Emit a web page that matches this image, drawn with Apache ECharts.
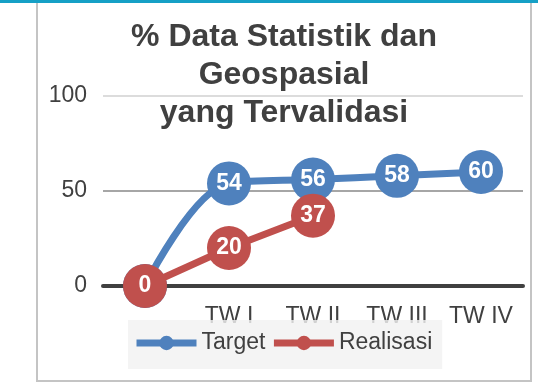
<!DOCTYPE html>
<html>
<head>
<meta charset="utf-8">
<script src="https://cdn.jsdelivr.net/npm/echarts@6/dist/echarts.min.js"></script>
<style>
  html, body { margin: 0; padding: 0; background: #ffffff; }
  #chart { width: 538px; height: 390px; }
</style>
</head>
<body>
<div id="chart"></div>
<script>
// Quarterly categories (first slot is the starting point, unlabeled)
const categories = ['', 'TW I', 'TW II', 'TW III', 'TW IV'];
const targetValues = [0, 54, 56, 58, 60];
const realisasiValues = [0, 20, 37, null, null];
const yTicks = [0, 50, 100];

const FONT = '"Liberation Sans", Arial, sans-serif';
const TEXT = '#404040';
const BLUE = '#4f81bd';
const RED = '#c0504d';

const chart = echarts.init(document.getElementById('chart'), null, { renderer: 'canvas' });

const pointLabel = {
  show: true,
  position: 'inside',
  color: '#ffffff',
  fontFamily: FONT,
  fontWeight: 'bold',
  fontSize: 23
};

chart.setOption({
  animation: false,
  backgroundColor: '#ffffff',
  title: {
    text: '% Data Statistik dan\nGeospasial\nyang Tervalidasi',
    left: 284,
    top: 18,
    textAlign: 'center',
    padding: 0,
    textStyle: {
      fontFamily: FONT,
      fontWeight: 'bold',
      fontSize: 32,
      lineHeight: 38,
      color: TEXT
    }
  },
  graphic: [
    {
      type: 'rect',
      shape: { x: 37, y: -4, width: 494, height: 385 },
      style: { fill: 'none', stroke: '#c4c4c4', lineWidth: 2 },
      z: -1
    },
    {
      type: 'rect',
      shape: { x: 0, y: 0, width: 538, height: 3 },
      style: { fill: '#16a0c6' },
      z: 10
    }
  ],
  grid: { left: 103, right: 15, top: 96, bottom: 104 },
  xAxis: {
    type: 'category',
    data: categories,
    boundaryGap: true,
    axisLine: { show: true, lineStyle: { color: TEXT, width: 4 } },
    axisTick: { show: false },
    axisLabel: {
      margin: 19,
      fontFamily: FONT,
      fontSize: 23,
      lineHeight: 23,
      color: TEXT
    },
    splitLine: { show: false },
    z: 3
  },
  yAxis: {
    type: 'value',
    min: 0,
    max: 100,
    interval: 50,
    axisLine: { show: false },
    axisTick: { show: false },
    axisLabel: {
      margin: 16,
      fontFamily: FONT,
      fontSize: 23,
      color: TEXT,
      formatter: function (v) { return yTicks.indexOf(v) >= 0 ? String(v) : ''; }
    },
    splitLine: {
      show: true,
      lineStyle: { color: ['#404040', '#a6a6a6', '#dcdcdc'], width: 2 }
    }
  },
  legend: {
    left: 128,
    top: 320,
    padding: [11, 10, 14, 5],
    itemGap: 5,
    itemWidth: 60,
    itemHeight: 18,
    backgroundColor: 'rgba(242,242,242,0.82)',
    textStyle: {
      fontFamily: FONT,
      fontSize: 23,
      lineHeight: 24,
      color: TEXT
    },
    data: [
      { name: 'Target', lineStyle: { width: 7, color: BLUE }, itemStyle: { color: BLUE } },
      { name: 'Realisasi', lineStyle: { width: 7, color: RED }, itemStyle: { color: RED } }
    ]
  },
  series: [
    {
      name: 'Target',
      type: 'line',
      data: targetValues,
      smooth: 0.35,
      symbol: 'circle',
      symbolSize: 44,
      lineStyle: { color: BLUE, width: 7 },
      itemStyle: { color: BLUE },
      label: pointLabel,
      z: 2
    },
    {
      name: 'Realisasi',
      type: 'line',
      data: realisasiValues,
      smooth: false,
      symbol: 'circle',
      symbolSize: 44,
      lineStyle: { color: RED, width: 7 },
      itemStyle: { color: RED },
      label: pointLabel,
      z: 3
    }
  ]
});
</script>
</body>
</html>
